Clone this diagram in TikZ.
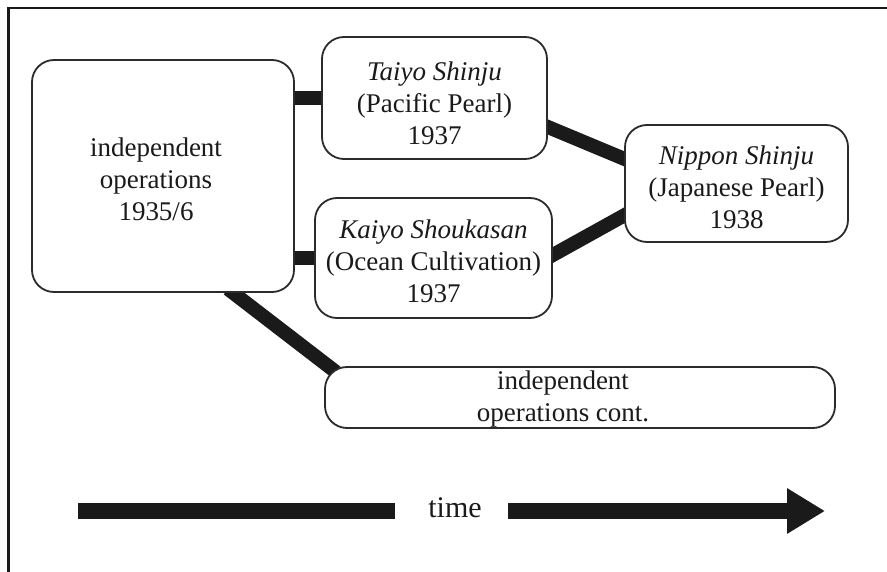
\documentclass[tikz,border=0pt]{standalone}
\usepackage{fontspec}
\setmainfont{Liberation Serif}
\usetikzlibrary{arrows.meta,backgrounds,calc}
\definecolor{ink}{HTML}{1A1A1A}
\definecolor{edgec}{HTML}{2B2B2B}
\begin{document}
\begin{tikzpicture}[x=1pt,y=-1pt,
  box/.style={draw=edgec, line width=1.8pt, fill=white, rounded corners=22pt, inner sep=0pt},
  txt/.style={align=center, font=\fontsize{27}{32}\selectfont, text=ink, inner sep=0pt},
  link/.style={draw=ink, line width=14pt},
  framec/.style={draw=ink, line width=2.5pt},
  timebar/.style={draw=ink, line width=16pt}]
\useasboundingbox (0,0) rectangle (887,572);
% frame
\coordinate (fTR) at (887,8);
\coordinate (fTL) at (8.5,8);
\coordinate (fBL) at (8.5,572);
\draw[framec] (fTR) -- (fTL) -- (fBL);
% boxes
\node[box, minimum width=262pt, minimum height=232pt] (big) at (163,176) {};
\node[box, minimum width=225pt, minimum height=122pt] (taiyo) at (434.5,98) {};
\node[box, minimum width=237pt, minimum height=120pt] (kaiyo) at (433.5,258) {};
\node[box, minimum width=223pt, minimum height=117pt] (nippon) at (736.5,183.5) {};
\node[box, minimum width=510pt, minimum height=61pt] (cont) at (580,397.5) {};
% texts
\node[txt] (bigtext) at ($(big)+(-7,3)$) {independent\\operations\\1935/6};
\node[txt] (taiyotext) at ($(taiyo)+(0,5)$) {\textit{Taiyo Shinju}\\(Pacific Pearl)\\1937};
\node[txt] (kaiyotext) at ($(kaiyo)+(0,3.5)$) {\textit{Kaiyo Shoukasan}\\(Ocean Cultivation)\\1937};
\node[txt] (nippontext) at ($(nippon)+(0,4)$) {\textit{Nippon Shinju}\\(Japanese Pearl)\\1938};
\node[txt] (conttext) at ($(cont)+(-17,1.5)$) {independent\\operations cont.};
% connectors
\begin{scope}[on background layer]
\draw[link] ($(taiyo.west)+(5,0)$) -- ($(taiyo.west -| big.east)+(-5,0)$);
\draw[link] ($(kaiyo.west)+(5,0)$) -- ($(kaiyo.west -| big.east)+(-5,0)$);
\draw[link] ($(taiyo.east)+(-6,26.5)$) -- ($(nippon.west)+(6,-22.2)$);
\draw[link] ($(kaiyo.east)+(-6,0.3)$) -- ($(nippon.west)+(6,28.6)$);
\draw[link] ($(big.south)+(65,-4)$) -- ($(cont.north west)+(12,6)$);
\end{scope}
% time arrow
\node[txt, font=\fontsize{30}{34}\selectfont, anchor=base] (time) at (455,517) {time};
\coordinate (tA) at (78,511);
\coordinate (tB) at (395,511);
\coordinate (tC) at (508,511);
\coordinate (tD) at (825,511);
\draw[timebar] (tA) -- (tB);
\draw[timebar, -{Triangle[length=38pt,width=43pt]}, fill=ink] (tC) -- (tD);
\end{tikzpicture}
\end{document}
